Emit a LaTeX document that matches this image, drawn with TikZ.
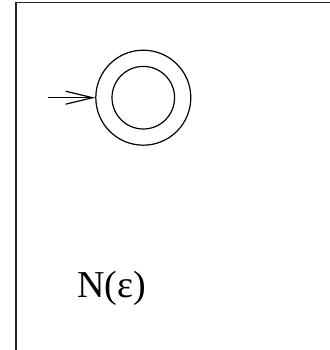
\documentclass[tikz,border=0pt]{standalone}
\usepackage{fontspec}
\setmainfont{Liberation Serif}
\usetikzlibrary{arrows.meta}
\begin{document}
\begin{tikzpicture}[x=1pt,y=1pt,
  line/.style={line width=1.2pt,black},
  state/.style={circle,draw,line width=1.2pt,inner sep=0pt},
  label text/.style={font=\fontsize{38}{44}\selectfont,inner sep=0pt}]
\useasboundingbox (0,0) rectangle (329,350);
\fill[white] (0,0) rectangle (329,350);
% frame (only left and top edges visible)
\draw[line width=1.6pt,black!85] (16,-5) -- (16,347.5) -- (335,347.5);
% accepting start state
\node[state,minimum size=95pt] (q) at (143.3,252.3) {};
\node[state,minimum size=62.6pt] (qi) at (q.center) {};
\coordinate (start) at (48,252.3);
\draw[line,-{Straight Barb[length=27pt,width=13pt,line width=1.2pt]}] (start) -- (q.west);
% label
\node[label text,anchor=base west] (lab) at (77,52) {N(ε)};
\end{tikzpicture}
\end{document}
